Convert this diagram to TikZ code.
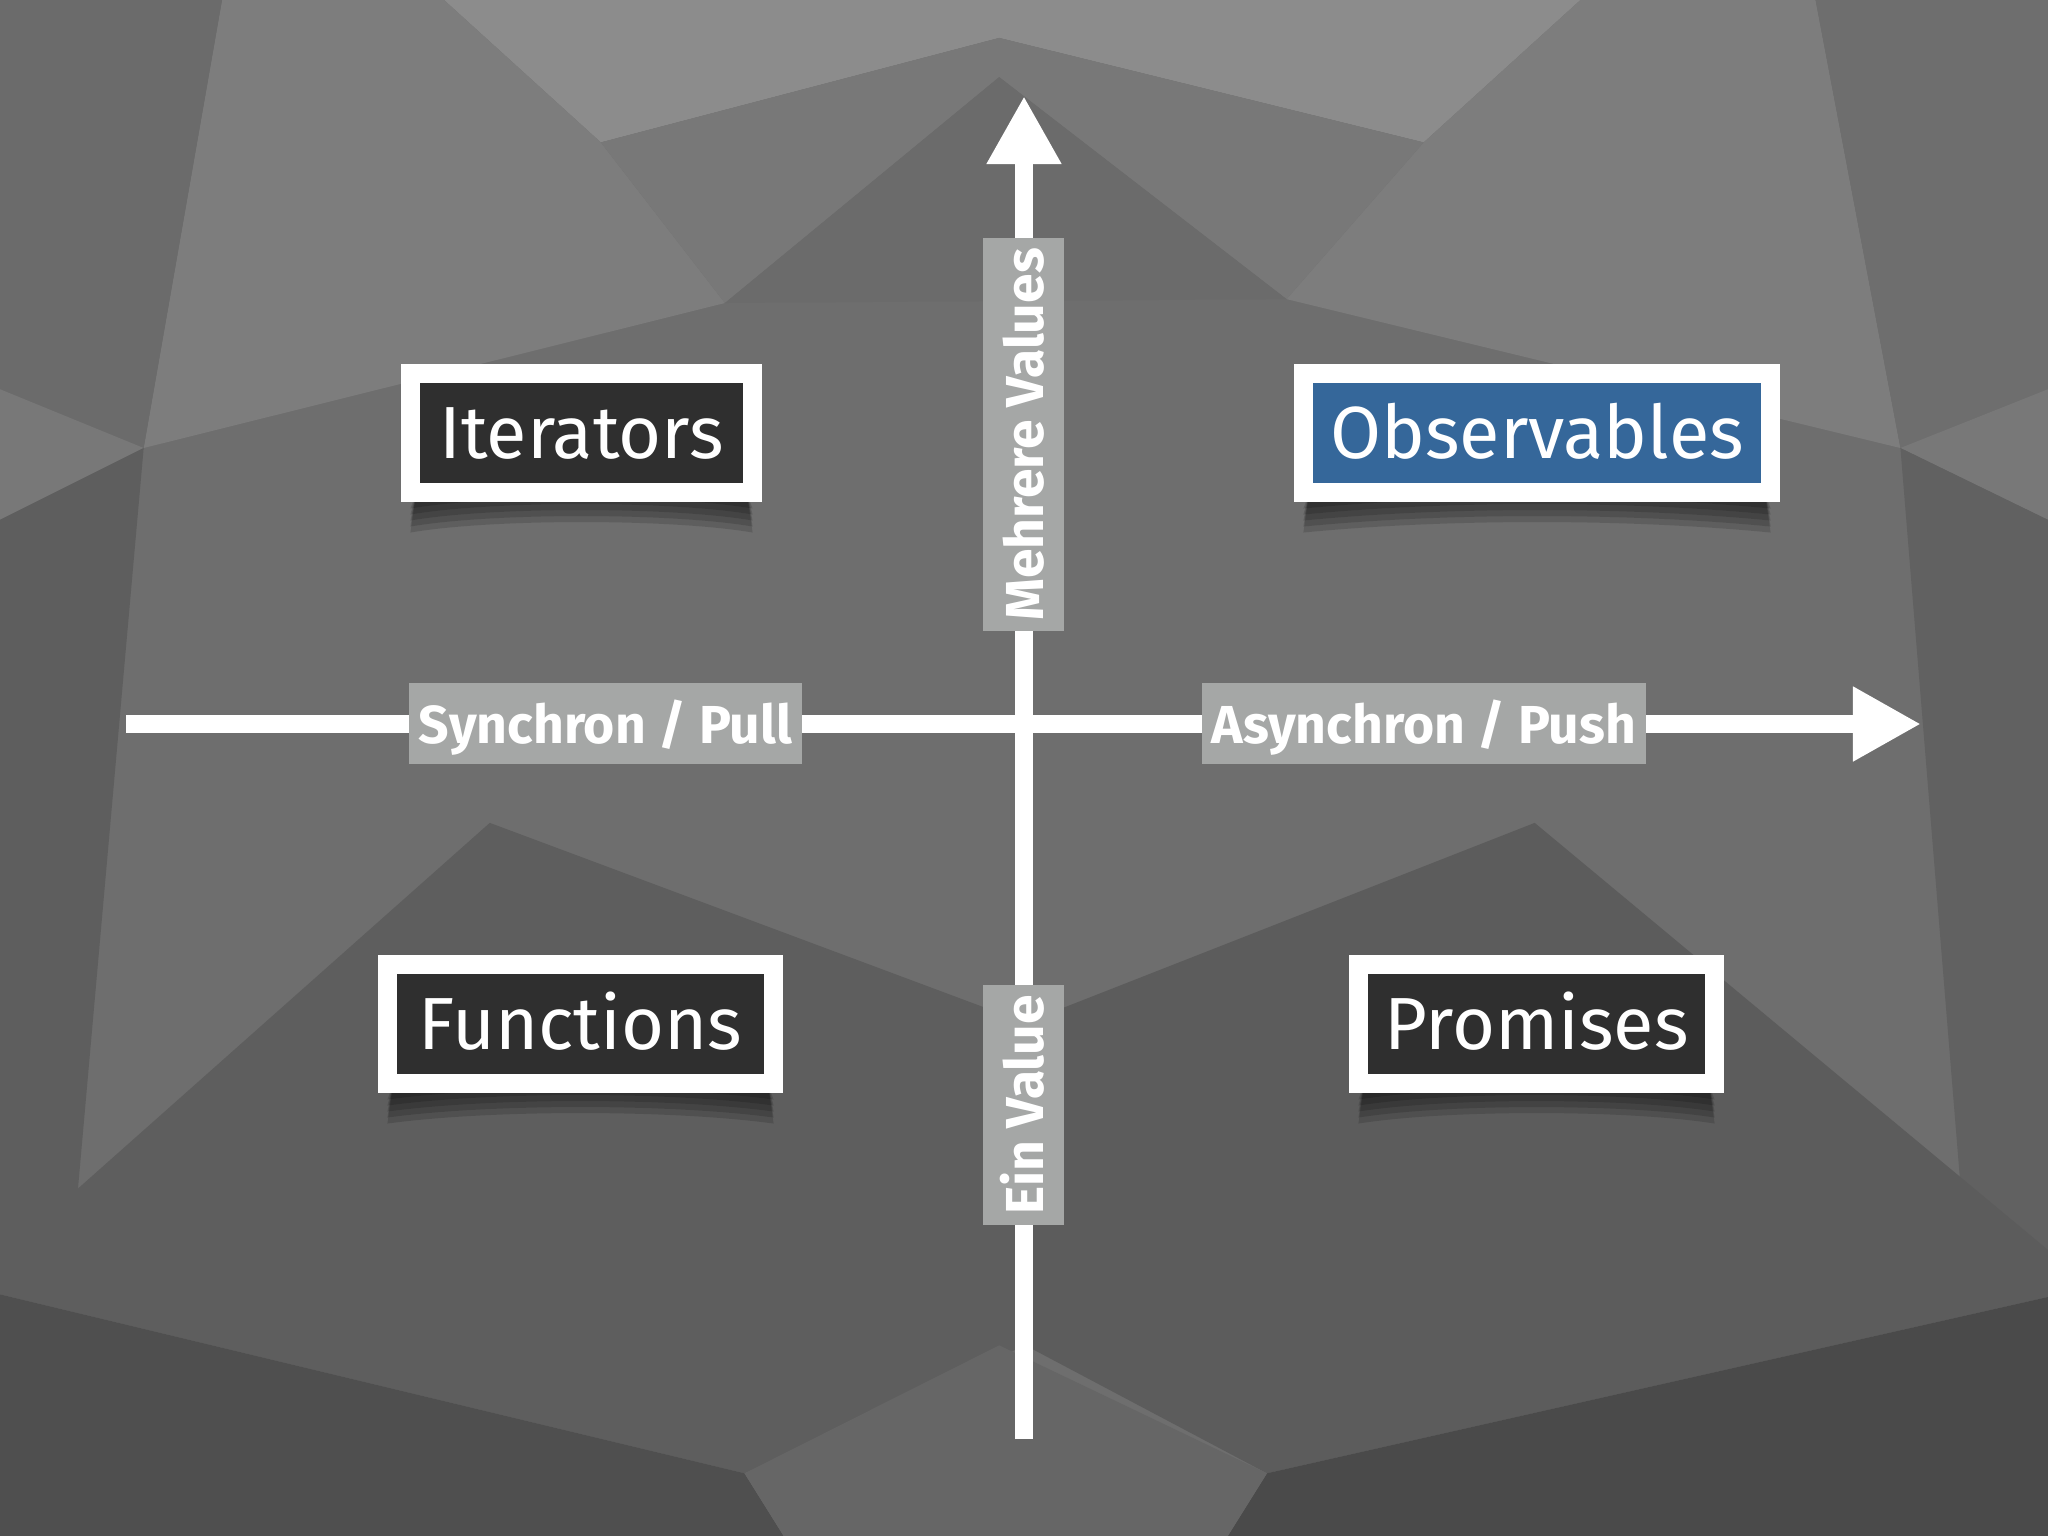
\documentclass[tikz,border=0pt]{standalone}
\usepackage{fontspec}
\setmainfont{Fira Sans}
\usetikzlibrary{arrows.meta,calc}
\definecolor{boxdark}{HTML}{2F2F2F}
\definecolor{obsblue}{HTML}{35679A}
\definecolor{labelgrey}{HTML}{A5A7A6}
\pgfdeclarelayer{bg}
\pgfdeclarelayer{shade}
\pgfsetlayers{bg,shade,main}

\begin{document}
\begin{tikzpicture}[x=0.01cm, y=-0.01cm,
	quad/.style={draw=white, line width=0.19cm, fill=boxdark, text=white, inner sep=0pt, outer sep=0pt,
		minimum height=1.19cm, text height=0.51cm, text depth=0cm, font=\fontsize{21}{25}\selectfont},
	axislabel/.style={fill=labelgrey, text=white, inner xsep=0.1cm, inner ysep=0pt, minimum height=0.81cm,
		text height=0.4cm, text depth=0cm, font=\bfseries\fontsize{15.2}{19}\selectfont},
	axis/.style={draw=white, line width=0.18cm, -{Triangle[width=0.7cm, length=0.68cm]}}]
	
	\useasboundingbox (0,0) rectangle (2048,1536);
	
	% low poly background
	\begin{pgfonlayer}{bg}
	\fill[black!57] (0,0) rectangle (2048,1536);
	\begin{scope}[scale=1.30612]
	\fill[black!45] (340,0) -- (1210,0) -- (1090,109) -- (765,29) -- (460,109) -- cycle;
	\fill[black!51] (170,0) -- (340,0) -- (460,109) -- (555,232) -- (110,343) -- cycle;
	\fill[black!51] (1210,0) -- (1390,0) -- (1455,343) -- (985,229) -- (1090,109) -- cycle;
	\fill[black!53] (460,109) -- (765,29) -- (765,59) -- (555,232) -- cycle;
	\fill[black!53] (765,29) -- (1090,109) -- (985,229) -- (765,59) -- cycle;
	\fill[black!58] (765,59) -- (985,229) -- (555,232) -- cycle;
	
	% corners and sides
	\fill[black!58] (0,0) -- (170,0) -- (110,343) -- (0,298) -- cycle;
	\fill[black!57] (1390,0) -- (1568,0) -- (1568,298) -- (1455,343) -- cycle;
	\fill[black!53] (0,298) -- (110,343) -- (0,398) -- cycle;
	\fill[black!53] (1568,298) -- (1455,343) -- (1568,398) -- cycle;
	\fill[black!63] (0,398) -- (110,343) -- (55,963) -- (0,963) -- cycle;
	\fill[black!62] (1568,398) -- (1455,343) -- (1505,957) -- (1568,957) -- cycle;
	
	% lower part
	\fill[black!63] (375,630) -- (785,783) -- (785,1030) -- (570,1128) -- (0,991) -- (0,963) -- cycle;
	\fill[black!64] (1175,630) -- (1568,957) -- (1568,993) -- (970,1128) -- (785,1030) -- (785,783) -- cycle;
	\fill[black!69] (0,991) -- (570,1128) -- (600,1176) -- (0,1176) -- cycle;
	\fill[black!71] (970,1128) -- (1568,993) -- (1568,1176) -- (940,1176) -- cycle;
	\fill[black!60] (570,1128) -- (765,1030) -- (970,1128) -- (940,1176) -- (600,1176) -- cycle;
	\end{scope}
	\end{pgfonlayer}
	
	% axes
	\coordinate (xstart) at (126,724);
	\coordinate (xend) at (1921,724);
	\coordinate (ystart) at (1024,1439);
	\coordinate (yend) at (1024,96);
	\draw[axis] (xstart) -- (xend);
	\draw[axis] (ystart) -- (yend);
	
	\node[axislabel] (pull) at (605.5,723.5) {Synchron / Pull};
	\node[axislabel] (push) at (1424,723.5) {Asynchron / Push};
	\node[axislabel, rotate=90] (many) at (1023.5,434.5) {Mehrere Values};
	\node[axislabel, rotate=90] (one) at (1023.5,1105) {Ein Value};
	
	% quadrants
	\node[quad, minimum width=3.42cm] (iter) at (581.5,433) {Iterators};
	\node[quad, fill=obsblue, minimum width=4.67cm] (obs) at (1537,433) {Observables};
	\node[quad, minimum width=3.86cm] (func) at (580.5,1024) {Functions};
	\node[quad, minimum width=3.56cm] (prom) at (1536.5,1024) {Promises};
	
	% soft shadows under the boxes
	\begin{pgfonlayer}{shade}
	\foreach \n in {iter, obs, func, prom}
	\foreach \d in {16, 22, 28, 34, 40}
	\fill[black, opacity=0.14] ($(\n.south west)+(6,0)$) -- ($(\n.south east)+(-6,0)$)
		-- ($(\n.south east)+(0,\d)$) .. controls ($(\n.south)+(90,\d-14)$) and ($(\n.south)+(-90,\d-14)$) .. ($(\n.south west)+(0,\d)$) -- cycle;
	\end{pgfonlayer}
\end{tikzpicture}
\end{document}
